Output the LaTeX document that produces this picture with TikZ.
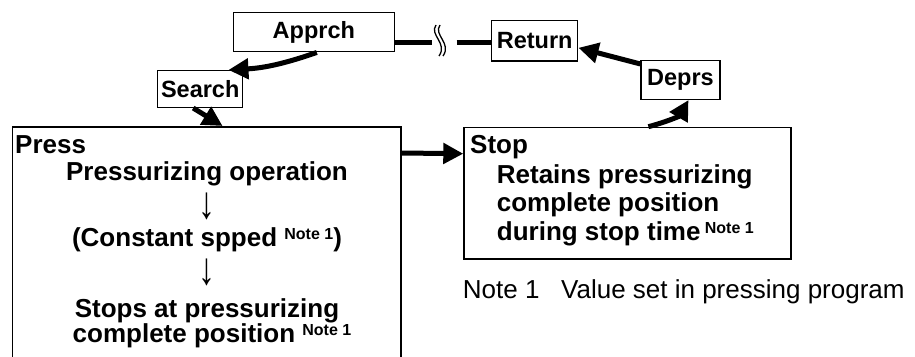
\documentclass[tikz,border=0pt]{standalone}
\usepackage{fontspec}
\setmainfont{Liberation Sans}
\usetikzlibrary{arrows.meta}
\newcommand{\bodytxt}{\fontsize{26}{30}\selectfont\bfseries}
\newcommand{\lbltxt}{\fontsize{23.5}{27}\selectfont\bfseries}
\newcommand{\notetxt}{\fontsize{26}{30}\selectfont}
\newcommand{\noteone}{\raisebox{7pt}{\fontsize{16}{18}\selectfont\bfseries Note 1}}
\newcommand{\downarr}{\scalebox{1.3}[1.75]{↓}}
\begin{document}
\begin{tikzpicture}[x=1pt, y=-1pt,
	box/.style={draw, line width=1.5pt, inner sep=0pt, font=\lbltxt},
	txt/.style={inner sep=0pt, font=\bodytxt},
	flow/.style={line width=5pt, -{Triangle[length=20pt, width=20pt]}},
	link/.style={line width=5pt}]
	\useasboundingbox (0,0) rectangle (915,356);
	\clip (0,0) rectangle (915,356);
	% Boxes:
	\node[box, minimum width=161pt, minimum height=39pt] (apprch) at (313.8,32.2) {Apprch};
	\node[box, minimum width=85pt, minimum height=36.6pt] (search) at (200.2,89) {Search};
	\node[box, minimum width=86pt, minimum height=40.3pt] (return) at (534.7,40.8) {Return};
	\node[box, minimum width=79pt, minimum height=38.6pt] (deprs) at (680.5,80) {Deprs};
	\node[box, anchor=north west, minimum width=388.3pt, minimum height=260pt] (press) at (11.7,126) {};
	\node[box, anchor=north west, minimum width=326.7pt, minimum height=131.6pt] (stop) at (463.3,126.7) {};
	% Texts in the boxes:
	\node[txt, anchor=base west] (presstitle) at (15,153) {Press};
	\node[txt, anchor=base] (pressa) at (207,180) {Pressurizing operation};
	\node[txt, anchor=base, font=\notetxt] (pressb) at (207,218) {\downarr};
	\node[txt, anchor=base] (pressc) at (207,246) {(Constant spped \noteone)};
	\node[txt, anchor=base, font=\notetxt] (pressd) at (207,284.5) {\downarr};
	\node[txt, anchor=base] (presse) at (207,317) {Stops at pressurizing};
	\node[txt, anchor=base] (pressf) at (212,342.7) {complete position \noteone};
	\node[txt, anchor=base west] (stoptitle) at (470,153) {Stop};
	\node[txt, anchor=base west] (stopa) at (496.7,183.3) {Retains pressurizing};
	\node[txt, anchor=base west] (stopb) at (496.7,211.7) {complete position};
	\node[txt, anchor=base west] (stopc) at (496.7,240) {during stop time\,\noteone};
	\node[txt, anchor=base west, font=\notetxt] (note) at (462.7,298) {Note 1~~~Value set in pressing program};
	% Arrows:
	\draw[flow] ([xshift=3pt]apprch.south) to[bend left=8] ([xshift=-15pt]search.north east);
	\draw[flow] ([xshift=-7pt]search.south) -- ([xshift=16pt]press.north);
	\draw[flow] ([yshift=-27pt]press.north east) -- ([yshift=-27pt]stop.north west);
	\draw[flow] ([xshift=21pt]stop.north) to[out=15, in=-120] ([xshift=8pt]deprs.south);
	\draw[flow] ([yshift=-4pt]deprs.north west) -- ([yshift=-7pt]return.east);
	% Break in the return line:
	\coordinate (brkl) at (431.7,42);
	\coordinate (brkr) at (456.7,42);
	\draw[link] (brkl) -- (brkl -| apprch.east);
	\draw[link] (brkr) -- (brkr -| return.west);
	\foreach \dx in {0,4}
		\draw[line width=1.3pt, xshift=\dx pt] (436,25) .. controls (429,35) and (448,43) .. (439,56);
\end{tikzpicture}
\end{document}
